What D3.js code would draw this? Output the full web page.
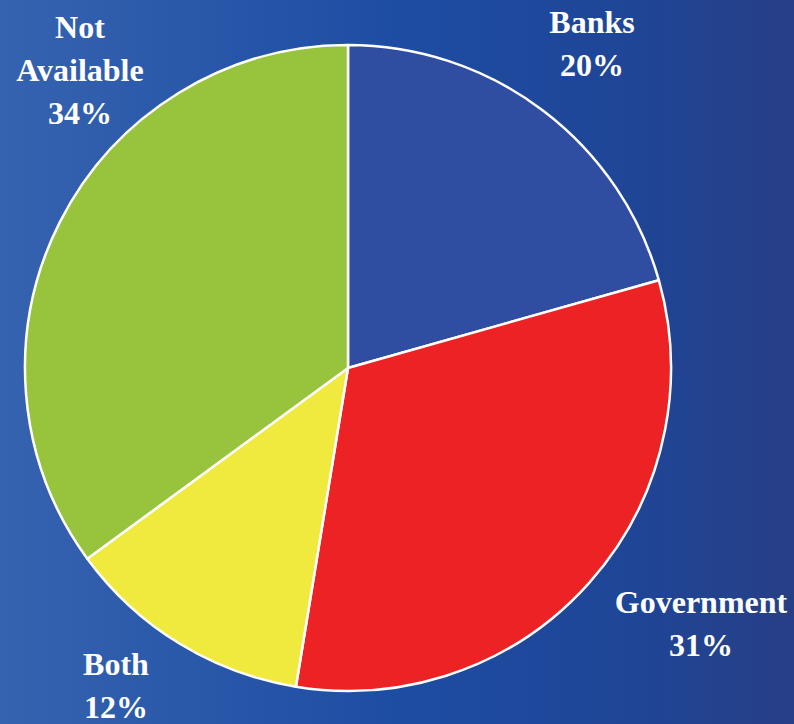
<!DOCTYPE html>
<html>
<head>
<meta charset="utf-8">
<script src="https://cdn.jsdelivr.net/npm/d3@7"></script>
<style>
  html, body { margin: 0; padding: 0; background: #1f4aa0; }
  svg { display: block; }
  .slice-label { font-family: "Liberation Serif", "Tinos", "Noto Serif", "DejaVu Serif", "FreeSerif", "Nimbus Roman", "Times New Roman", Times, serif; font-weight: 700; font-size: 32px; }
</style>
</head>
<body>
<svg id="chart" width="794" height="724"></svg>
<script>
// Share of holdings by owner type
const categories = ["Banks", "Government", "Both", "Not Available"];
const shares = [20, 31, 12, 34];
const sliceColors = ["#304ea1", "#ed2224", "#efea3d", "#97c33d"];

// Label lines and anchor points for each slice (text only)
const labelLines = [["Banks", "20%"], ["Government", "31%"], ["Both", "12%"], ["Not", "Available", "34%"]];
const labelAnchors = [[592, 33], [701, 613], [116, 675], [80, 38]];

const width = 794, height = 724;
const cx = 348, cy = 368, radius = 323;

const svg = d3.select("#chart");

// Background: horizontal blue gradient
const defs = svg.append("defs");
const grad = defs.append("linearGradient").attr("id", "bg").attr("x1", "0%").attr("x2", "100%").attr("y1", "0%").attr("y2", "0%");
grad.append("stop").attr("offset", "0%").attr("stop-color", "#3663b0");
grad.append("stop").attr("offset", "50%").attr("stop-color", "#1d4da3");
grad.append("stop").attr("offset", "80%").attr("stop-color", "#1f4596");
grad.append("stop").attr("offset", "100%").attr("stop-color", "#273f86");
svg.append("rect").attr("width", width).attr("height", height).attr("fill", "url(#bg)");

const data = categories.map((c, i) => ({ category: c, value: shares[i], color: sliceColors[i], lines: labelLines[i], anchor: labelAnchors[i] }));

const pie = d3.pie().value(d => d.value).sort(null);
const arc = d3.arc().innerRadius(0).outerRadius(radius);

const g = svg.append("g").attr("transform", `translate(${cx},${cy})`);
g.selectAll("path")
  .data(pie(data))
  .join("path")
  .attr("d", arc)
  .attr("fill", d => d.data.color)
  .attr("stroke", "#ffffff")
  .attr("stroke-width", 2.5)
  .attr("stroke-linejoin", "round");

// Slice labels
const lineHeight = 43;
const labels = svg.append("g")
  .attr("class", "slice-label")
  .attr("fill", "#ffffff")
  .attr("text-anchor", "middle");

data.forEach(d => {
  const t = labels.append("text").attr("x", d.anchor[0]).attr("y", d.anchor[1]);
  d.lines.forEach((line, i) => {
    t.append("tspan").attr("x", d.anchor[0]).attr("dy", i === 0 ? 0 : lineHeight).text(line);
  });
});
</script>
</body>
</html>
